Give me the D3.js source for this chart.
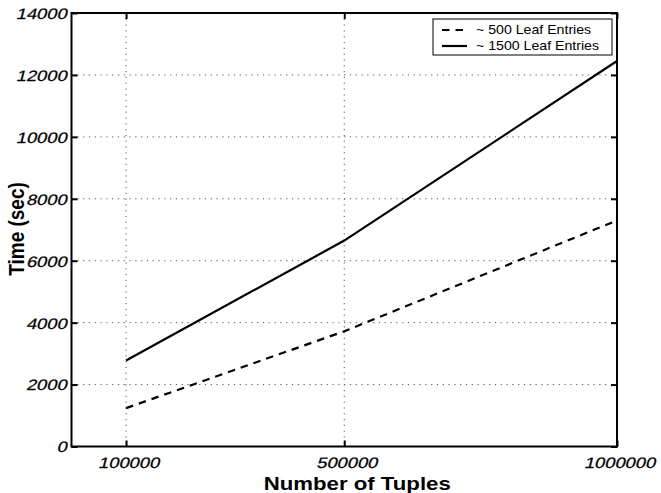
<!DOCTYPE html>
<html>
<head>
<meta charset="utf-8">
<script src="https://cdn.jsdelivr.net/npm/d3@7/dist/d3.min.js"></script>
<style>
  html, body { margin: 0; padding: 0; background: #fff; }
  svg { display: block; }
  text { font-family: "Liberation Sans", Arial, Helvetica, sans-serif; fill: #000; }
  .ticklabel { font-family: "Liberation Sans", Arial, Helvetica, sans-serif; font-size: 15px; fill: #000; stroke: #000; stroke-width: 0.25px; }
</style>
</head>
<body>
<svg id="chart" width="661" height="493"></svg>
<script>
// Build time versus number of tuples, for two leaf-entry settings
const tuples = [100000, 500000, 1000000];
const leaf500 = [1240, 3720, 7300];
const leaf1500 = [2780, 6650, 12450];
const seriesNames = ["~ 500 Leaf Entries", "~ 1500 Leaf Entries"];
const xTicks = [100000, 500000, 1000000];
const yTicks = [0, 2000, 4000, 6000, 8000, 10000, 12000, 14000];
const xTitle = "Number of Tuples";
const yTitle = "Time (sec)";

const svg = d3.select("#chart");
const plot = { left: 71.5, right: 617, top: 13, bottom: 446.5 };

const x = d3.scaleLinear().domain([0, 1000000]).range([plot.left, plot.right]);
const y = d3.scaleLinear().domain([0, 14000]).range([plot.bottom, plot.top]);

const stretch = 1.22;     // horizontal widening of the lettering
const slant = -12;        // oblique tick numerals

// dotted grid
const grid = svg.append("g")
  .attr("stroke", "#555")
  .attr("stroke-width", 1)
  .attr("stroke-dasharray", "1.2,4.6");
grid.selectAll("line.h")
  .data(yTicks.filter(v => v > 0 && v < 14000))
  .join("line")
  .attr("x1", plot.left).attr("x2", plot.right)
  .attr("y1", d => y(d)).attr("y2", d => y(d));
grid.selectAll("line.v")
  .data(xTicks.filter(v => v < 1000000))
  .join("line")
  .attr("y1", plot.top).attr("y2", plot.bottom)
  .attr("x1", d => x(d)).attr("x2", d => x(d));

// axes with inward ticks on all four sides
const tickLen = 6;
const gLeft = svg.append("g").attr("transform", `translate(${plot.left},0)`)
  .call(d3.axisLeft(y).tickValues(yTicks).tickSizeInner(-tickLen).tickSizeOuter(0).tickFormat(d3.format("d")));
const gRight = svg.append("g").attr("transform", `translate(${plot.right},0)`)
  .call(d3.axisRight(y).tickValues(yTicks).tickSizeInner(-tickLen).tickSizeOuter(0).tickFormat(""));
const gBottom = svg.append("g").attr("transform", `translate(0,${plot.bottom})`)
  .call(d3.axisBottom(x).tickValues(xTicks).tickSizeInner(-tickLen).tickSizeOuter(0).tickFormat(d3.format("d")));
const gTop = svg.append("g").attr("transform", `translate(0,${plot.top})`)
  .call(d3.axisTop(x).tickValues(xTicks).tickSizeInner(-tickLen).tickSizeOuter(0).tickFormat(""));

[gLeft, gRight, gBottom, gTop].forEach(g => {
  g.attr("font-family", null).attr("font-size", null);
  g.select(".domain").remove();
  g.selectAll(".tick line").attr("stroke", "#000").attr("stroke-width", 2);
});

gLeft.selectAll(".tick text")
  .attr("class", "ticklabel")
  .attr("x", 0).attr("dy", "0.36em")
  .attr("text-anchor", "end")
  .attr("transform", `translate(-3.5,0) scale(${stretch},1) skewX(${slant})`);
gBottom.selectAll(".tick text")
  .attr("class", "ticklabel")
  .attr("y", 0).attr("dy", 0)
  .attr("text-anchor", "middle")
  .attr("transform", `translate(2,21.5) scale(${stretch},1) skewX(${slant})`);

// frame
svg.append("rect")
  .attr("x", plot.left).attr("y", plot.top)
  .attr("width", plot.right - plot.left).attr("height", plot.bottom - plot.top)
  .attr("fill", "none").attr("stroke", "#000").attr("stroke-width", 2);

// series lines
const line = d3.line().x((d, i) => x(tuples[i])).y(d => y(d));
svg.append("path").datum(leaf500)
  .attr("d", line).attr("fill", "none")
  .attr("stroke", "#000").attr("stroke-width", 2.2)
  .attr("stroke-dasharray", "7.5,6");
svg.append("path").datum(leaf1500)
  .attr("d", line).attr("fill", "none")
  .attr("stroke", "#000").attr("stroke-width", 2.2);

// axis titles
svg.append("text")
  .attr("transform", `translate(${(plot.left + plot.right) / 2 + 13},490) scale(1.2,1)`)
  .attr("text-anchor", "middle")
  .style("font-size", "18.5px").style("font-weight", "bold")
  .text(xTitle);
svg.append("text")
  .attr("transform", `translate(24,229) rotate(-90) scale(1,1.2)`)
  .attr("text-anchor", "middle")
  .style("font-size", "19px").style("font-weight", "bold")
  .text(yTitle);

// legend
const legend = svg.append("g");
legend.append("rect")
  .attr("x", 433).attr("y", 19).attr("width", 179).attr("height", 36)
  .attr("fill", "#fff").attr("stroke", "#000").attr("stroke-width", 1);
const rows = [
  { name: seriesNames[0], dash: "7.5,6", cy: 30 },
  { name: seriesNames[1], dash: null, cy: 46 }
];
rows.forEach(r => {
  legend.append("line")
    .attr("x1", 442).attr("x2", 467).attr("y1", r.cy).attr("y2", r.cy)
    .attr("stroke", "#000").attr("stroke-width", 2.2)
    .attr("stroke-dasharray", r.dash);
  legend.append("text")
    .attr("transform", `translate(476,${r.cy}) scale(1.18,1)`)
    .attr("dy", "0.36em")
    .style("font-size", "12px")
    .text(r.name);
});
</script>
</body>
</html>
